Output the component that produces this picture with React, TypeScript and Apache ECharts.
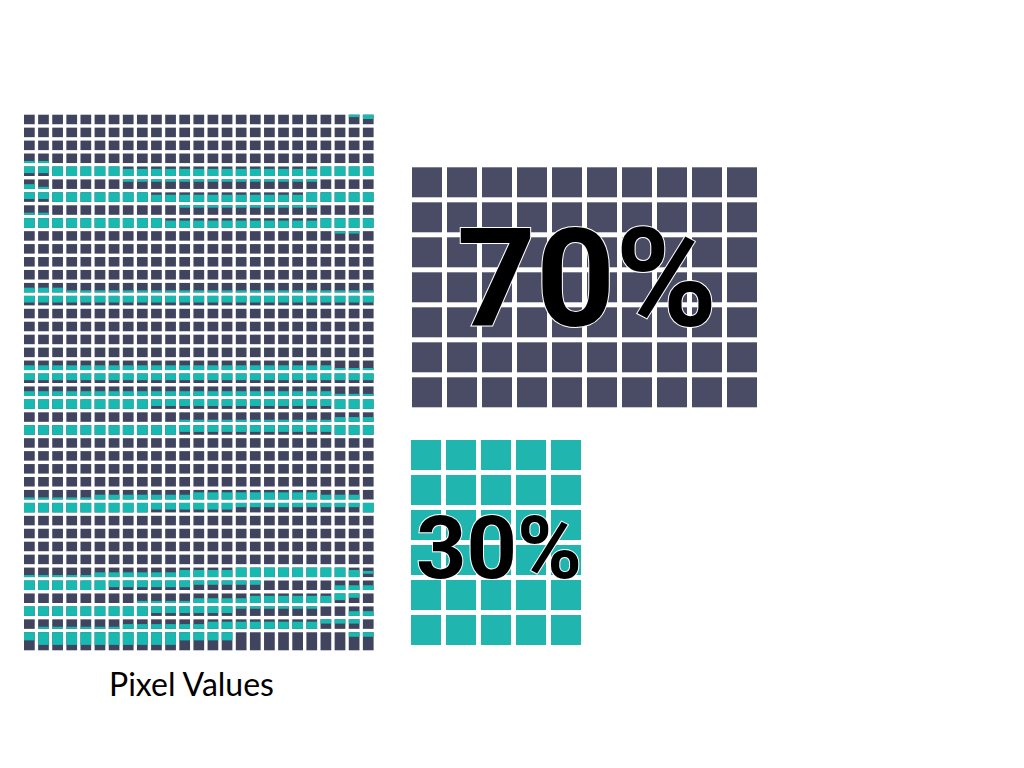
import React, { useEffect, useRef } from "react";
import * as echarts from "echarts";

// Left panel: image split into cells. One char per cell.
// '.' dark, '#' teal, teal band codes: s thin bottom, b bottom half, B mostly bottom,
// u thin top, t top half, T mostly top, m middle
const PIXEL_ROWS: string[] = [
  ".......................ut",
  ".........................",
  ".........................",
  "ss.......................",
  "TT#####BBBBBBBBBBBBBB####",
  "bs.....uuuuuuuuuuuuuu....",
  "TT#######BBBBBBBBBBB#####",
  "ss.........uuuuuuuuuu....",
  "##########BBBBBBBBBBB####",
  "......................uu.",
  ".........................",
  ".........................",
  ".........................",
  "bbbssssssssssssssssssssss",
  "TTTTTTTTTTTTTTTTTTTTTTTTT",
  ".........................",
  ".........................",
  ".........................",
  ".........................",
  "bbbbbbbbbbbbbbbbbbbbbbsss",
  "TTTTTTTTTTTTTTTTTTTTTTTTT",
  "bbbbbbbbbbbbbbbbbbbbbbsss",
  "#########TTTTTTTTTTTTT###",
  "...........sssssssssssbbb",
  "###########TTTTTTTTTTT###",
  ".........................",
  ".........................",
  ".........................",
  ".........................",
  "sssssbbbbbbbBBBBBBBBBbbb.",
  "#########TTTTTTttttttttt#",
  ".........................",
  ".........................",
  ".........................",
  ".........................",
  "sssssbbbbbbBBBB########Bm",
  "######TTTTTTttttt.....bbb",
  "........ssssbbbbBBBBBBTt.",
  "#########TTTTTTuuuuuu..bb",
  ".ssssssbbbbbbBBBBBBBBttt.",
  "tTTTTTTTTTTtttt........uu",
];

const PIXEL_COLS: string[] = Array.from({ length: 25 }, (_, i) => String(i));
const PIXEL_ROW_LABELS: string[] = PIXEL_ROWS.map((_, i) => String(i));

// Teal band (fraction from top of cell) per code
const BANDS: Record<string, [number, number] | null> = {
  ".": null,
  "#": [0, 1],
  s: [0.78, 1],
  b: [0.5, 1],
  B: [0.25, 1],
  u: [0, 0.25],
  t: [0, 0.45],
  T: [0, 0.7],
  m: [0.35, 0.65],
};

// Share blocks
const SHARE_LABELS: string[] = ["70%", "30%"];
const SHARE_VALUES: number[] = [70, 30];
const SHARE_COLUMNS: number[] = [10, 5];
const SHARE_ROWS: number[] = [7, 6];

const DARK = "#41445f";
const TEAL = "#18b9b1";
const BLOCK_DARK = "#4a4b65";
const BLOCK_TEAL = "#20b5af";

export default function App() {
  const ref = useRef<HTMLDivElement>(null);

  useEffect(() => {
    if (!ref.current) return;
    const chart = echarts.init(ref.current, undefined, { renderer: "svg" });

    const pixelData: number[][] = [];
    const pixelCodes: string[] = [];
    PIXEL_ROWS.forEach((row, r) => {
      for (let c = 0; c < row.length; c++) {
        pixelData.push([c, r]);
        pixelCodes.push(row[c]);
      }
    });
    const lastRow = PIXEL_ROWS.length - 1;

    const blockData = (idx: number) => {
      const d: number[][] = [];
      for (let i = 0; i < SHARE_VALUES[idx]; i++) {
        d.push([i % SHARE_COLUMNS[idx], Math.floor(i / SHARE_COLUMNS[idx])]);
      }
      return d;
    };

    const blockRender = (color: string) => (params: any, api: any) => {
      const c = api.coord([api.value(0), api.value(1)]);
      const s = api.size([1, 1]);
      const w = s[0] - 5;
      const h = s[1] - 5;
      return {
        type: "rect",
        shape: { x: c[0] - w / 2, y: c[1] - h / 2, width: w, height: h },
        style: { fill: color },
      };
    };

    const textEl = (t: string, x: number, y: number, size: number) => ({
      type: "text",
      x,
      y,
      z: 11,
      style: {
        text: t,
        fill: "#000000",
        stroke: "#ffffff",
        lineWidth: 2,
        font: `bold ${size}px Roboto`,
        textAlign: "center",
        textVerticalAlign: "middle",
      },
    });

    chart.setOption({
      animation: false,
      backgroundColor: "#ffffff",
      grid: [
        { left: 22.3, top: 113, width: 353, height: 530.5 },
        { left: 409.5, top: 164.8, width: 350, height: 245 },
        { left: 408.5, top: 437.5, width: 175, height: 210 },
      ],
      xAxis: [
        { type: "category", gridIndex: 0, data: PIXEL_COLS, show: false },
        {
          type: "category",
          gridIndex: 1,
          data: Array.from({ length: SHARE_COLUMNS[0] }, (_, i) => String(i)),
          show: false,
        },
        {
          type: "category",
          gridIndex: 2,
          data: Array.from({ length: SHARE_COLUMNS[1] }, (_, i) => String(i)),
          show: false,
        },
      ],
      yAxis: [
        { type: "category", gridIndex: 0, data: PIXEL_ROW_LABELS, inverse: true, show: false },
        {
          type: "category",
          gridIndex: 1,
          data: Array.from({ length: SHARE_ROWS[0] }, (_, i) => String(i)),
          inverse: true,
          show: false,
        },
        {
          type: "category",
          gridIndex: 2,
          data: Array.from({ length: SHARE_ROWS[1] }, (_, i) => String(i)),
          inverse: true,
          show: false,
        },
      ],
      series: [
        {
          type: "custom",
          xAxisIndex: 0,
          yAxisIndex: 0,
          data: pixelData,
          renderItem: (params: any, api: any) => {
            const col = api.value(0);
            const row = api.value(1);
            const c = api.coord([col, row]);
            const s = api.size([1, 1]);
            const w = s[0] * 0.76;
            const hBase = s[1] - 3.4;
            const h = row === lastRow ? hBase + 8.5 : hBase;
            const x = c[0] - w / 2;
            const y = c[1] - hBase / 2;
            const children: any[] = [
              { type: "rect", shape: { x, y, width: w, height: h }, style: { fill: DARK } },
            ];
            const band = BANDS[pixelCodes[params.dataIndex]];
            if (band) {
              children.push({
                type: "rect",
                shape: { x, y: y + band[0] * h, width: w, height: (band[1] - band[0]) * h },
                style: { fill: TEAL },
              });
            }
            return { type: "group", children };
          },
        },
        {
          type: "custom",
          xAxisIndex: 1,
          yAxisIndex: 1,
          data: blockData(0),
          renderItem: blockRender(BLOCK_DARK),
        },
        {
          type: "custom",
          xAxisIndex: 2,
          yAxisIndex: 2,
          data: blockData(1),
          renderItem: blockRender(BLOCK_TEAL),
        },
      ],
      graphic: [
        textEl(SHARE_LABELS[0], 587, 279, 138),
        textEl(SHARE_LABELS[1], 499, 547, 88),
        {
          type: "text",
          x: 191.5,
          y: 683,
          style: {
            text: "Pixel Values",
            fill: "#000000",
            font: "32px Lato",
            textAlign: "center",
            textVerticalAlign: "middle",
          },
        },
      ],
    });

    return () => chart.dispose();
  }, []);

  return (
    <div
      ref={ref}
      style={{ position: "fixed", left: 0, top: 0, width: 1024, height: 768 }}
    />
  );
}
